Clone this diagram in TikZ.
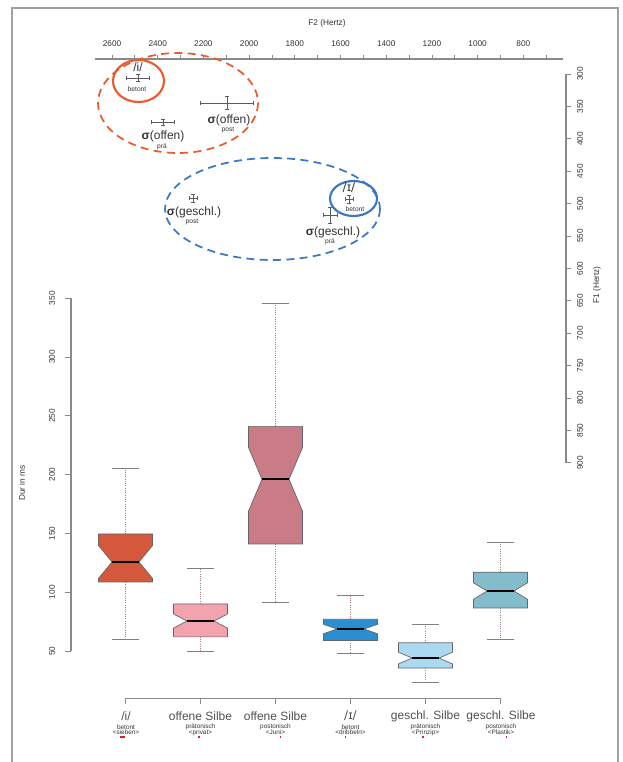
\documentclass[tikz,border=0pt]{standalone}
\usepackage{fontspec}
\setmainfont{Liberation Sans}
\newfontfamily\ipafont{DejaVu Sans}
\definecolor{framegray}{HTML}{A0A0A0}
\definecolor{axgray}{HTML}{8A8A8A}
\definecolor{txtgray}{HTML}{333333}
\definecolor{cboxA}{HTML}{D5573C}
\definecolor{cboxB}{HTML}{F3A3AE}
\definecolor{cboxC}{HTML}{C97B87}
\definecolor{cboxD}{HTML}{2A8ED0}
\definecolor{cboxE}{HTML}{AAD9F1}
\definecolor{cboxF}{HTML}{83BCCB}
\definecolor{ellred}{HTML}{EC5A2C}
\definecolor{ellblue}{HTML}{3A78C4}
\definecolor{whiskcol}{HTML}{A08080}
\definecolor{ulred}{HTML}{E02020}
\newcommand\redul[1]{\begingroup\setbox0\hbox{#1}\rlap{\color{ulred}\rule[-2.2pt]{\wd0}{1.4pt}}\box0\endgroup}
\tikzset{
  axisline/.style={draw=axgray, line width=0.9pt},
  ticklbl/.style={font=\fontsize{6.2}{7}\selectfont, text=txtgray, inner sep=0pt},
  errbar/.style={draw=txtgray!80, line width=0.7pt},
  siglbl/.style={font=\fontsize{9}{10}\selectfont, text=txtgray, inner sep=0pt},
  sublbl/.style={font=\fontsize{5}{6}\selectfont, text=txtgray, inner sep=0pt},
  catlbl/.style={font=\fontsize{9}{10}\selectfont, text=txtgray!85, inner sep=0pt},
  smalllbl/.style={font=\fontsize{4.8}{5}\selectfont, text=txtgray, inner sep=0pt},
  whisk/.style={draw=whiskcol, line width=0.7pt, densely dotted},
  capline/.style={draw=gray, line width=0.6pt},
  medline/.style={draw=black, line width=1.4pt},
  boxline/.style={draw=gray!80!black, line width=0.5pt},
}
\newcommand\errpt[4]{%
  \draw[errbar] (#1-#3,#2) -- (#1+#3,#2) (#1-#3,#2-1.8) -- (#1-#3,#2+1.8) (#1+#3,#2-1.8) -- (#1+#3,#2+1.8);
  \draw[errbar] (#1,#2-#4) -- (#1,#2+#4) (#1-1.8,#2-#4) -- (#1+1.8,#2-#4) (#1-1.8,#2+#4) -- (#1+1.8,#2+#4);
}
% box: center, color, lo, q1, med, q3, hi, notch
\newcommand\nbox[8]{%
  \pgfmathsetmacro\ylo{651-(#3-50)*1.176}
  \pgfmathsetmacro\yqa{651-(#4-50)*1.176}
  \pgfmathsetmacro\ymd{651-(#5-50)*1.176}
  \pgfmathsetmacro\yqc{651-(#6-50)*1.176}
  \pgfmathsetmacro\yhi{651-(#7-50)*1.176}
  \pgfmathsetmacro\ynu{651-(#5+#8-50)*1.176}
  \pgfmathsetmacro\ynl{651-(#5-#8-50)*1.176}
  \draw[whisk] (#1,\yqc) -- (#1,\yhi);
  \draw[whisk] (#1,\yqa) -- (#1,\ylo);
  \draw[capline] (#1-13.5,\yhi) -- (#1+13.5,\yhi);
  \draw[capline] (#1-13.5,\ylo) -- (#1+13.5,\ylo);
  \filldraw[boxline, fill=#2] (#1-27,\yqc) -- (#1+27,\yqc) -- (#1+27,\ynu) -- (#1+13.5,\ymd) -- (#1+27,\ynl) -- (#1+27,\yqa) -- (#1-27,\yqa) -- (#1-27,\ynl) -- (#1-13.5,\ymd) -- (#1-27,\ynu) -- cycle;
  \draw[medline] (#1-13.5,\ymd) -- (#1+13.5,\ymd);
}
\begin{document}
\begin{tikzpicture}[x=0.75pt, y=-0.75pt]
\useasboundingbox (0,0) rectangle (623,762);
\fill[white] (0,0) rectangle (623,762);
% frame
\draw[framegray, line width=1.4pt] (12,762) -- (12,8) -- (618,8) -- (618,762);

% ---------- F2 axis (top)
\node[ticklbl] (f2title) at (327,23) {F2 (Hertz)};
\draw[axisline] (95,59) -- (563,59);
\foreach \f in {700,800,...,2600} {
  \pgfmathsetmacro\xx{112+(2600-\f)*0.2285}
  \draw[axisline, line width=0.6pt] (\xx,59) -- (\xx,55);
}
\foreach \f in {800,1000,...,2600} {
  \pgfmathsetmacro\xx{112+(2600-\f)*0.2285}
  \node[ticklbl] (f2l\f) at (\xx,44) {\f};
}

% ---------- F1 axis (right)
\draw[axisline] (566,74) -- (566,463);
\foreach \f in {300,350,...,900} {
  \pgfmathsetmacro\yy{74+(\f-300)*0.648}
  \draw[axisline, line width=0.6pt] (566,\yy) -- (571,\yy);
  \node[ticklbl, rotate=90] (f1l\f) at (580,\yy) {\f};
}
\node[ticklbl, rotate=90] (f1title) at (597,285) {F1 (Hertz)};

% ---------- vowel space
\draw[ellred, line width=1.3pt, dashed, dash pattern=on 6pt off 4pt] (178,103) ellipse [x radius=80, y radius=50];
\draw[ellblue, line width=1.3pt, dashed, dash pattern=on 6pt off 4pt] (272.5,209) ellipse [x radius=107.5, y radius=51];
\draw[ellred, line width=1.6pt] (138.5,81) ellipse [x radius=25.5, y radius=21];
\draw[ellblue, line width=1.6pt] (353.5,198.5) ellipse [x radius=23.5, y radius=17.5];

\errpt{138}{78}{11.5}{3.5}
\errpt{163}{122}{11.5}{3}
\errpt{227}{103}{26.5}{6.5}
\errpt{193}{198}{4}{4}
\errpt{330}{215}{7}{8}
\errpt{349}{199}{4}{4}

\node[siglbl] (ibet) at (138,67) {/i/};
\node[sublbl] (ibetsub) at (137,89) {betont};
\node[siglbl] (offpra) at (163,136) {\textbf{σ}(offen)};
\node[sublbl] (offprasub) at (162,147) {prä};
\node[siglbl] (offpost) at (229,120) {\textbf{σ}(offen)};
\node[sublbl] (offpostsub) at (228,130) {post};
\node[siglbl] (gespost) at (194,212) {\textbf{σ}(geschl.)};
\node[sublbl] (gespostsub) at (192,222) {post};
\node[siglbl] (gespra) at (333,232) {\textbf{σ}(geschl.)};
\node[sublbl] (gesprasub) at (330,242) {prä};
\node[siglbl] (Ibet) at (349,188) {{\ipafont /ɪ/}};
\node[sublbl] (Ibetsub) at (355,209) {betont};

% ---------- Dur axis (left)
\draw[axisline] (71,298) -- (71,651);
\foreach \d in {50,100,...,350} {
  \pgfmathsetmacro\yy{651-(\d-50)*1.176}
  \draw[axisline, line width=0.6pt] (71,\yy) -- (65,\yy);
  \node[ticklbl, rotate=90] (dl\d) at (52,\yy) {\d};
}
\node[ticklbl, rotate=90] (durtitle) at (22,483) {Dur in ms};

% ---------- boxes
\nbox{125.5}{cboxA}{60}{108.7}{125.7}{149.5}{205}{14}
\nbox{200.5}{cboxB}{49.5}{62}{75.5}{90}{120.6}{6}
\nbox{275.5}{cboxC}{91}{141}{196}{241}{346}{27}
\nbox{350.5}{cboxD}{48}{59}{68.7}{77}{97.6}{4}
\nbox{425.5}{cboxE}{23}{35.5}{44}{57}{73}{5}
\nbox{500.5}{cboxF}{60}{86.6}{101}{117}{142}{7}

% ---------- category tree
\draw[axisline, line width=0.7pt] (125.5,698) -- (500.5,698);
\foreach \c in {125.5,200.5,275.5,350.5,425.5,500.5} {
  \draw[axisline, line width=0.6pt] (\c,698) -- (\c,704);
}
\node[catlbl] (c1) at (126,716) {/i/};
\node[smalllbl] (c1a) at (126,727) {betont};
\node[smalllbl] (c1b) at (126,734) {<s\redul{ie}ben>};
\node[catlbl] (c2) at (200.5,716) {offene Silbe};
\node[smalllbl] (c2a) at (200.5,727) {prätonisch};
\node[smalllbl] (c2b) at (200.5,734) {<pr\redul{i}vat>};
\node[catlbl] (c3) at (275.5,716) {offene Silbe};
\node[smalllbl] (c3a) at (275.5,727) {postonisch};
\node[smalllbl] (c3b) at (275.5,734) {<Jun\redul{i}>};
\node[catlbl] (c4) at (350.5,716) {{\ipafont /ɪ/}};
\node[smalllbl] (c4a) at (350.5,727) {betont};
\node[smalllbl] (c4b) at (350.5,734) {<dr\redul{i}bbeln>};
\node[catlbl] (c5) at (425.5,716) {geschl. Silbe};
\node[smalllbl] (c5a) at (425.5,727) {prätonisch};
\node[smalllbl] (c5b) at (425.5,734) {<Pr\redul{i}nzip>};
\node[catlbl] (c6) at (501,716) {geschl. Silbe};
\node[smalllbl] (c6a) at (501,727) {postonisch};
\node[smalllbl] (c6b) at (501,734) {<Plast\redul{i}k>};
\end{tikzpicture}
\end{document}
